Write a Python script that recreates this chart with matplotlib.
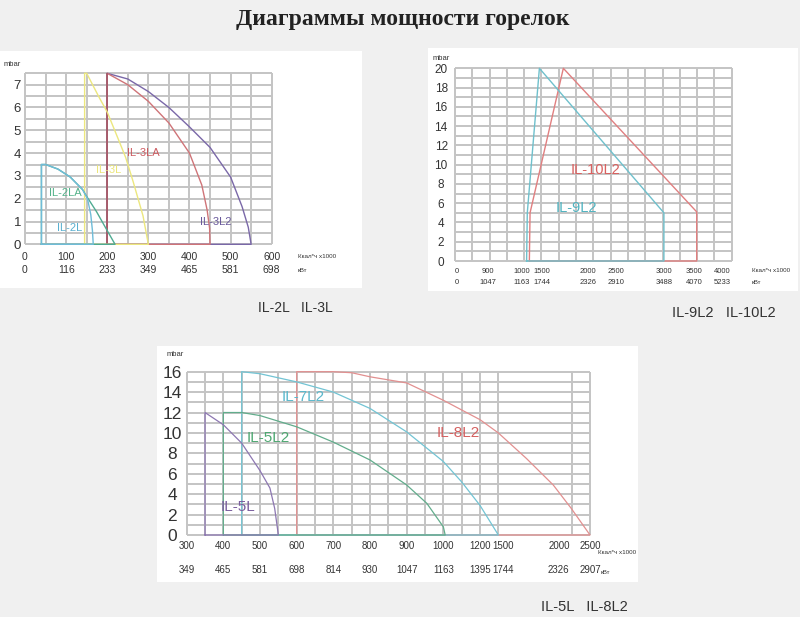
import numpy as np
import matplotlib.pyplot as plt
from matplotlib.patches import Rectangle
from matplotlib.transforms import blended_transform_factory

plt.rcParams['font.family'] = ['Liberation Sans', 'DejaVu Sans']

W, H = 800, 617
BG = '#f0f0f0'
GRID = '#c4c4c4'
TXT = '#333333'

# ---------- chart 1: IL-2L, IL-3L ----------
c1_kcal_ticks = [0, 100, 200, 300, 400, 500, 600]
c1_kw_labels = ['0', '116', '233', '349', '465', '581', '698']
c1_y_ticks = [0, 1, 2, 3, 4, 5, 6, 7]

il2l_x = [40, 40, 50, 80, 110, 140, 152, 160, 164, 166]
il2l_y = [0, 3.5, 3.5, 3.3, 2.95, 2.4, 2.0, 1.3, 0.6, 0]
il2la_x = [40, 40, 50, 80, 110, 140, 150, 174, 199, 219]
il2la_y = [0, 3.5, 3.5, 3.3, 2.95, 2.4, 2.1, 1.43, 0.63, 0]
il3l_x = [145, 145, 150, 181, 200, 231, 245, 263, 287, 300]
il3l_y = [0, 7.5, 7.5, 6.42, 5.8, 4.43, 3.8, 2.75, 1.25, 0]
il3la_x = [200, 200, 250, 300, 350, 400, 430, 443, 449, 450]
il3la_y = [0, 7.5, 7.0, 6.27, 5.32, 4.0, 2.6, 1.5, 0.7, 0]
il3l2_x = [200, 200, 250, 300, 350, 400, 450, 500, 528, 543, 550]
il3l2_y = [0, 7.5, 7.25, 6.7, 6.0, 5.15, 4.25, 2.95, 1.65, 0.75, 0]

# ---------- chart 2: IL-9L2, IL-10L2 ----------
c2_kcal_labels = ['0', '900', '1000', '1500', '2000', '2500', '3000', '3500', '4000']
c2_kw_labels = ['0', '1047', '1163', '1744', '2326', '2910', '3488', '4070', '5233']
c2_label_pos = [20, 480, 960, 1250, 1920, 2330, 3020, 3460, 3860]
c2_y_ticks = list(range(0, 21, 2))

il9l2_x = [1035, 1045, 1220, 3020, 3020]
il9l2_y = [0, 5, 20, 5, 0]
il10l2_x = [1075, 1085, 1566, 3494, 3494]
il10l2_y = [0, 5, 20, 5.1, 0]

# ---------- chart 3: IL-5L, IL-8L2 ----------
c3_kcal_ticks = [300, 400, 500, 600, 700, 800, 900, 1000, 1200, 1500, 2000, 2500]
c3_kw_labels = ['349', '465', '581', '698', '814', '930', '1047', '1163',
                '1395', '1744', '2326', '2907']
c3_y_ticks = list(range(0, 17, 2))
# the printed axis is not linear: kcal value -> grid column
c3_kcal_knots = [-100000, 300, 1000, 1200, 1500, 2000, 2500, 100000]
c3_col_knots = [-2006, 0, 14, 16, 17.25, 20.3, 22, 353.5]

il5l_x = [350, 350, 400, 450, 500, 527, 540, 550]
il5l_y = [0, 12, 10.8, 9.0, 6.3, 4.6, 2.6, 0]
il5l2_x = [400, 400, 450, 500, 600, 700, 800, 900, 955, 1000, 1010]
il5l2_y = [0, 12, 12, 11.7, 10.6, 9.1, 7.35, 4.9, 3.1, 0.8, 0]
il7l2_x = [450, 450, 500, 600, 700, 800, 900, 1000, 1100, 1200, 1440]
il7l2_y = [0, 16, 15.8, 15.0, 14.0, 12.4, 10.1, 7.2, 5.2, 2.9, 0]
il8l2_x = [600, 600, 700, 750, 800, 900, 1000, 1200, 1440, 1710, 1950, 2200, 2500]
il8l2_y = [0, 16, 16, 15.9, 15.5, 14.9, 13.2, 11.3, 10.0, 7.5, 4.9, 2.6, 0]


fig = plt.figure(figsize=(W / 100, H / 100), dpi=100)
fig.patch.set_facecolor(BG)


def px_axes(l, t, r, b):
    return fig.add_axes([l / W, 1 - b / H, (r - l) / W, (b - t) / H])


def panel(l, t, r, b):
    fig.add_artist(Rectangle((l / W, 1 - b / H), (r - l) / W, (b - t) / H,
                             transform=fig.transFigure, facecolor='white',
                             edgecolor='none', zorder=0))


def burner(ax, x, y, color, lw=1.0):
    ax.plot(list(x) + [x[0]], list(y) + [y[0]], color=color, lw=lw,
            zorder=3, clip_on=False)


def setup(ax, xlim, ylim, vgrid, hgrid):
    ax.set_xlim(*xlim)
    ax.set_ylim(*ylim)
    ax.set_facecolor('none')
    for s in ax.spines.values():
        s.set_visible(False)
    ax.vlines(vgrid, ylim[0], ylim[1], color=GRID, lw=1.4, zorder=1, clip_on=False)
    ax.hlines(hgrid, xlim[0], xlim[1], color=GRID, lw=1.4, zorder=1, clip_on=False)
    ax.tick_params(which='both', length=0, colors=TXT)
    ax.minorticks_off()


def kw_row(ax, pos, labels, y, size):
    tr = blended_transform_factory(ax.transData, ax.transAxes)
    for p, lab in zip(pos, labels):
        ax.text(p, y, lab, transform=tr, ha='center', va='center',
                fontsize=size, color=TXT, clip_on=False)


panel(0, 51, 362, 288)
panel(428, 48, 798, 291)
panel(157, 346, 638, 582)

fig.text(403 / W, 1 - 19 / H, 'Диаграммы мощности горелок', ha='center', va='center',
         fontsize=17, fontweight='bold', family='Liberation Serif', color='#222222')

# chart 1
ax1 = px_axes(25, 73.3, 271.7, 244.3)
setup(ax1, (0, 600), (0, 7.5), np.arange(0, 601, 50), np.arange(0, 7.51, 0.5))
ax1.set_xticks(c1_kcal_ticks, [str(v) for v in c1_kcal_ticks], fontsize=7.5)
ax1.set_yticks(c1_y_ticks, [str(v) for v in c1_y_ticks], fontsize=9.5, ha='center')
ax1.tick_params(axis='x', pad=5.5)
ax1.tick_params(axis='y', pad=5.5)
kw_row(ax1, c1_kcal_ticks, c1_kw_labels, -0.153, 7.5)
burner(ax1, il3l2_x, il3l2_y, '#7a68a8')
burner(ax1, il3la_x, il3la_y, '#cf7478')
ax1.plot([200, 200], [0, 7.5], color='#a05466', lw=1.1, zorder=3)
burner(ax1, il3l_x, il3l_y, '#ece77e')
burner(ax1, il2la_x, il2la_y, '#4fab92')
burner(ax1, il2l_x, il2l_y, '#6fbcd8')
ax1.text(288, 4.0, 'IL-3LA', color='#cc5b60', fontsize=8, ha='center', va='center')
ax1.text(203, 3.26, 'IL-3L', color='#ebe57a', fontsize=8, ha='center', va='center')
ax1.text(99, 2.24, 'IL-2LA', color='#54b28a', fontsize=8, ha='center', va='center')
ax1.text(109, 0.72, 'IL-2L', color='#5ab0d0', fontsize=8, ha='center', va='center')
ax1.text(465, 0.98, 'IL-3L2', color='#6a5a9c', fontsize=8, ha='center', va='center')
fig.text(298 / W, 1 - 256 / H, 'Ккал*ч х1000', fontsize=4.5, color=TXT, va='center')
fig.text(298 / W, 1 - 270.5 / H, 'кВт', fontsize=4.5, color=TXT, va='center')
fig.text(12 / W, 1 - 65 / H, 'mbar', fontsize=5.5, color=TXT, ha='center', va='center')
fig.text(258 / W, 1 - 308 / H, 'IL-2L   IL-3L', fontsize=10, color=TXT, va='center')

# chart 2
ax2 = px_axes(455, 68.3, 731.7, 261)
setup(ax2, (0, 4000), (0, 20), np.arange(0, 4001, 250), np.arange(0, 21, 1))
ax2.set_xticks(c2_label_pos, c2_kcal_labels, fontsize=5.5)
ax2.set_yticks(c2_y_ticks, [str(v) for v in c2_y_ticks], fontsize=8.5, ha='center')
ax2.tick_params(axis='x', pad=5)
ax2.tick_params(axis='y', pad=10)
kw_row(ax2, c2_label_pos, c2_kw_labels, -0.114, 5.5)
burner(ax2, il10l2_x, il10l2_y, '#e07f80')
burner(ax2, il9l2_x, il9l2_y, '#6fc0cc')
ax2.text(2024, 9.45, 'IL-10L2', color='#d9605f', fontsize=10.5, ha='center', va='center')
ax2.text(1759, 5.47, 'IL-9L2', color='#4fb3c0', fontsize=10.5, ha='center', va='center')
fig.text(752 / W, 1 - 271 / H, 'Ккал*ч х1000', fontsize=4.5, color=TXT, va='center')
fig.text(752 / W, 1 - 283 / H, 'кВт', fontsize=4.5, color=TXT, va='center')
fig.text(441 / W, 1 - 59 / H, 'mbar', fontsize=5.5, color=TXT, ha='center', va='center')
fig.text(672 / W, 1 - 313 / H, 'IL-9L2   IL-10L2', fontsize=10.5, color=TXT, va='center')

# chart 3
ax3 = px_axes(186.7, 371.7, 590, 535)


def to_col(x):
    return np.interp(x, c3_kcal_knots, c3_col_knots)


def to_kcal(c):
    return np.interp(c, c3_col_knots, c3_kcal_knots)


ax3.set_xscale('function', functions=(to_col, to_kcal))
setup(ax3, (300, 2500), (0, 16), to_kcal(np.r_[np.arange(0, 18), 21, 22]),
      np.arange(0, 17, 1))
ax3.set_xticks(c3_kcal_ticks, [str(v) for v in c3_kcal_ticks], fontsize=7)
ax3.set_yticks(c3_y_ticks, [str(v) for v in c3_y_ticks], fontsize=12.5, ha='center')
ax3.minorticks_off()
ax3.tick_params(axis='x', pad=4)
ax3.tick_params(axis='y', pad=10.5)
kw_row(ax3, c3_kcal_ticks, c3_kw_labels, -0.214, 7)
burner(ax3, il8l2_x, il8l2_y, '#e29090', lw=0.9)
burner(ax3, il7l2_x, il7l2_y, '#72c4d4', lw=0.9)
burner(ax3, il5l2_x, il5l2_y, '#62ad8c', lw=0.9)
burner(ax3, il5l_x, il5l_y, '#8d77b2', lw=0.9)
ax3.text(618, 13.55, 'IL-7L2', color='#5ab8cc', fontsize=11, ha='center', va='center')
ax3.text(522, 9.47, 'IL-5L2', color='#4fa872', fontsize=11, ha='center', va='center')
ax3.text(441, 2.78, 'IL-5L', color='#7a5e9e', fontsize=11, ha='center', va='center')
ax3.text(1080, 9.96, 'IL-8L2', color='#d46060', fontsize=11, ha='center', va='center')
fig.text(598 / W, 1 - 553 / H, 'Ккал*ч х1000', fontsize=4.5, color=TXT, va='center')
fig.text(601 / W, 1 - 573 / H, 'кВт', fontsize=4.5, color=TXT, va='center')
fig.text(175 / W, 1 - 355 / H, 'mbar', fontsize=5.5, color=TXT, ha='center', va='center')
fig.text(541 / W, 1 - 607 / H, 'IL-5L   IL-8L2', fontsize=10.5, color=TXT, va='center')

fig.savefig('out.png', dpi=100, facecolor=BG)
